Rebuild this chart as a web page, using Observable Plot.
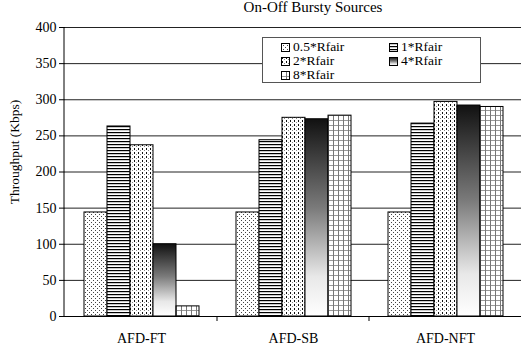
<!DOCTYPE html>
<html><head><meta charset="utf-8">
<script src="https://cdn.jsdelivr.net/npm/d3@7"></script>
<script src="https://cdn.jsdelivr.net/npm/@observablehq/plot@0.6"></script>
<style>
body{margin:0;background:#fff;}
#wrap{position:relative;width:522px;height:355px;font-family:"Times New Roman","Liberation Serif",Tinos,Times,serif;}
#title{position:absolute;left:163px;width:300px;top:0px;text-align:center;font-size:15px;line-height:15px;}
#ylab{position:absolute;left:15px;transform:translate(-50%,-50%) rotate(-90deg);transform-origin:center;font-size:13.5px;white-space:nowrap;}
#legend{position:absolute;left:262px;top:37px;width:219px;height:46px;border:1px solid #555;background:#fff;box-sizing:border-box;font-size:13.5px;}
.it{position:absolute;display:flex;align-items:center;height:14px;line-height:14px;}
.it svg{margin-right:3px;}
</style></head>
<body><div id="wrap"><div id="title">On-Off Bursty Sources</div></div>
<script>
const categories = ["AFD-FT","AFD-SB","AFD-NFT"];
const series = ["0.5*Rfair","1*Rfair","2*Rfair","4*Rfair","8*Rfair"];
const valsFT  = [144, 263, 237, 100, 14];
const valsSB  = [144, 244, 275, 273, 278];
const valsNFT = [144, 267, 297, 292, 290];
const yTicks = [0,50,100,150,200,250,300,350,400];
const yLabel = "Throughput (Kbps)";
const fills = ["url(#pDots)","url(#pHoriz)","url(#pDash)","url(#gGrad)","url(#pGrid)"];

const allVals = [valsFT, valsSB, valsNFT];
const data = [];
categories.forEach((c,i)=>series.forEach((s,j)=>data.push({cat:c, series:s, value:allVals[i][j], fill:fills[j]})));

const wrap = document.getElementById("wrap");
const defs = document.createElementNS("http://www.w3.org/2000/svg","svg");
defs.setAttribute("width","0");defs.setAttribute("height","0");
defs.style.position="absolute";
defs.innerHTML = `<defs>
<pattern id="pDots" patternUnits="userSpaceOnUse" width="4" height="4">
 <rect width="4" height="4" fill="#fff"/><rect x="0" y="0" width="1" height="1" fill="#444"/><rect x="2" y="2" width="1" height="1" fill="#444"/>
</pattern>
<pattern id="pHoriz" patternUnits="userSpaceOnUse" width="4" height="3">
 <rect width="4" height="3" fill="#fff"/><rect x="0" y="0" width="4" height="1.2" fill="#000"/>
</pattern>
<pattern id="pDash" patternUnits="userSpaceOnUse" width="4" height="4">
 <rect width="4" height="4" fill="#fff"/><rect x="1" y="0" width="1" height="2" fill="#111"/><rect x="3" y="2" width="1" height="1" fill="#888"/>
</pattern>
<pattern id="pGrid" patternUnits="userSpaceOnUse" width="5" height="5">
 <rect width="5" height="5" fill="#fff"/><rect x="0" y="0" width="5" height="1" fill="#999"/><rect x="0" y="0" width="1" height="5" fill="#777"/>
</pattern>
<linearGradient id="gGrad" x1="0" y1="0" x2="0" y2="1">
 <stop offset="0" stop-color="#111"/><stop offset="0.45" stop-color="#7a7a7a"/><stop offset="0.8" stop-color="#e8e8e8"/><stop offset="1" stop-color="#fff"/>
</linearGradient></defs>`;
wrap.appendChild(defs);

const plot = Plot.plot({
  width:522, height:355,
  marginTop:27, marginLeft:64, marginRight:0, marginBottom:39,
  style:{fontFamily:'"Times New Roman","Liberation Serif",Tinos,Times,serif', fontSize:"14px", color:"#000", background:"transparent"},
  y:{domain:[0,400], ticks:yTicks, tickSize:6, tickPadding:3, label:null},
  fx:{domain:categories, padding:0, label:null, tickSize:0, tickPadding:17, axis:"bottom"},
  x:{domain:series, axis:null, paddingInner:0, paddingOuter:0.74},
  color:{type:"identity"},
  marks:[
    Plot.ruleY(yTicks.filter(t=>t>0), {stroke:"#222", strokeWidth:1}),
    Plot.barY(data, {fx:"cat", x:"series", y:"value", fill:"fill", stroke:"#000", strokeWidth:1}),
    Plot.ruleY([0], {stroke:"#000"})
  ]
});
wrap.insertBefore(plot, wrap.firstChild);
plot.style.position="absolute"; plot.style.left="0"; plot.style.top="0";

const fx = plot.scale("fx"), y = plot.scale("y");
const sel = d3.select(plot);
const x0 = fx.range[0];
const yb = y.apply(0), yt = y.apply(400);
sel.append("line").attr("x1",x0).attr("x2",x0).attr("y1",yt).attr("y2",yb+1).attr("stroke","#000");
categories.slice(1).forEach(c=>{
  const bx = fx.apply(c);
  sel.append("line").attr("x1",bx).attr("x2",bx).attr("y1",yb).attr("y2",yb+5).attr("stroke","#000");
});

const yl = document.createElement("div"); yl.id="ylab"; yl.textContent=yLabel;
yl.style.top = y.apply(227)+"px";
wrap.appendChild(yl);

const leg = document.createElement("div"); leg.id="legend";
const pos = [[18,2],[126,2],[18,16],[126,16],[18,30]];
series.forEach((s,j)=>{
  const d = document.createElement("div"); d.className="it";
  d.style.left=pos[j][0]+"px"; d.style.top=pos[j][1]+"px";
  d.innerHTML = `<svg width="9" height="9"><rect x="0.5" y="0.5" width="8" height="8" fill="${fills[j]}" stroke="#000"/></svg><span>${s}</span>`;
  leg.appendChild(d);
});
wrap.appendChild(leg);
</script></body></html>
